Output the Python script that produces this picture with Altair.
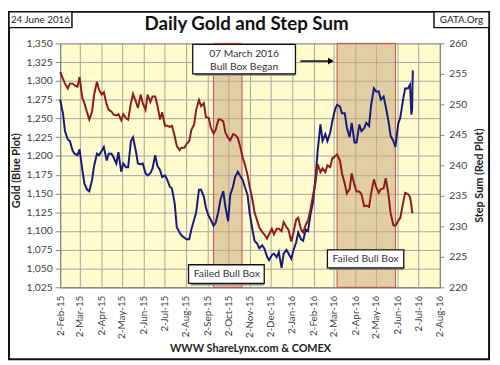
import altair as alt
import pandas as pd

# ---------------- data ----------------
start = pd.Timestamp("2015-02-02")
day_offsets = [int(3.5 * k + 0.5) for k in range(145)] + [506, 507, 508]
dates = [(start + pd.Timedelta(days=d)).strftime("%Y-%m-%d") for d in day_offsets]

gold = [1275, 1257, 1233, 1222, 1220, 1207, 1203, 1201, 1209, 1181,
        1163, 1155, 1153, 1168, 1187, 1203, 1201, 1207, 1212, 1194,
        1203, 1203, 1198, 1190, 1205, 1179, 1190, 1185, 1185, 1220,
        1225, 1207, 1190, 1189, 1190, 1177, 1174, 1177, 1183, 1201,
        1187, 1181, 1172, 1174, 1169, 1159, 1157, 1137, 1105, 1098,
        1094, 1091, 1089, 1089, 1102, 1115, 1125, 1155, 1155, 1146,
        1131, 1120, 1115, 1107, 1111, 1126, 1142, 1153, 1133, 1113,
        1148, 1159, 1172, 1179, 1174, 1168, 1159, 1148, 1124, 1102,
        1087, 1083, 1077, 1081, 1077, 1066, 1061, 1068, 1070, 1065,
        1072, 1051, 1070, 1075, 1070, 1063, 1074, 1085, 1098, 1089,
        1087, 1102, 1100, 1124, 1137, 1172, 1207, 1242, 1220, 1229,
        1220, 1231, 1246, 1262, 1268, 1266, 1257, 1257, 1238, 1225,
        1244, 1218, 1218, 1242, 1233, 1237, 1244, 1240, 1268, 1290,
        1286, 1286, 1275, 1279, 1266, 1246, 1227, 1220, 1212, 1243,
        1251, 1275, 1290, 1290, 1295, 1255, 1262, 1314]

step = [255.3, 254.2, 253.4, 252.6, 253.4, 253.4, 253.1, 252.9, 254.5, 251.0,
        250.2, 248.6, 247.5, 248.8, 251.6, 253.7, 252.4, 251.6, 252.0, 250.0,
        249.1, 248.8, 248.3, 248.2, 248.4, 247.4, 248.4, 247.7, 247.5, 250.2,
        251.7, 250.5, 249.4, 251.6, 250.2, 249.1, 251.6, 250.4, 251.3, 251.3,
        249.9, 247.5, 248.7, 246.5, 246.5, 246.3, 246.5, 244.8, 243.2, 242.5,
        242.9, 242.9, 243.5, 244.0, 245.8, 246.7, 249.1, 250.7, 249.7, 250.2,
        247.9, 247.8, 246.2, 245.2, 245.8, 247.5, 247.5, 247.2, 245.4, 244.5,
        244.1, 245.1, 245.0, 244.5, 243.2, 241.3, 240.2, 238.4, 236.5, 234.4,
        232.3, 230.9, 229.8, 229.1, 228.7, 228.0, 228.7, 229.6, 228.7, 229.6,
        229.6, 229.2, 230.7, 229.9, 229.4, 227.5, 228.9, 231.1, 231.4, 229.5,
        229.0, 230.3, 230.9, 233.0, 234.9, 237.3, 240.2, 238.9, 239.5, 238.9,
        240.0, 239.7, 241.1, 241.5, 241.8, 240.8, 238.7, 237.0, 235.4, 236.1,
        238.7, 236.8, 235.7, 235.7, 235.3, 233.3, 233.4, 233.2, 235.4, 237.7,
        236.5, 235.5, 236.1, 236.2, 237.9, 235.2, 232.2, 230.2, 230.1, 230.9,
        231.4, 233.8, 235.5, 235.3, 234.8, 233.5, 232.2, 232.5]

box_start = ["2015-09-11", "2016-03-07"]
box_end = ["2015-10-22", "2016-05-30"]
box_lo = [1025, 1025]
box_hi = [1350, 1350]

note_x1 = ["2015-08-12", "2015-08-06", "2016-02-22"]
note_x2 = ["2016-01-07", "2015-11-23", "2016-06-11"]
note_lo = [1309.4, 1030.2, 1050.8]
note_hi = [1348.7, 1055.1, 1074.8]

text_lines = ["07 March 2016", "Bull Box Began", "Failed Bull Box", "Failed Bull Box"]
text_x = ["2015-10-25", "2015-10-25", "2015-09-30", "2016-04-17"]
text_y = [1335.6, 1318.5, 1042.7, 1063.0]

arrow_from = ["2016-01-14"]
arrow_to = ["2016-02-27"]
arrow_level = [1326.4]

month_ticks = [(2015, m) for m in range(2, 13)] + [(2016, m) for m in range(1, 9)]
gold_ticks = list(range(1025, 1351, 25))
step_ticks = list(range(220, 261, 5))

# ---------------- tables ----------------
df = pd.DataFrame({"date": dates, "gold": gold, "step": step})
boxes = pd.DataFrame({"s": box_start, "e": box_end, "lo": box_lo, "hi": box_hi})
notes = pd.DataFrame({"s": note_x1, "e": note_x2, "lo": note_lo, "hi": note_hi})
texts = pd.DataFrame({"t": text_lines, "d": text_x, "v": text_y})
arrow = pd.DataFrame({"s": arrow_from, "e": arrow_to, "v": arrow_level})
one = pd.DataFrame({"k": [0]})

FONT = "Lato"
GRID = "#a3a3a3"

xscale = alt.Scale(
    type="utc",
    domain=[alt.DateTime(year=2015, month=2, date=2, utc=True),
            alt.DateTime(year=2016, month=8, date=2, utc=True)],
)
xaxis = alt.Axis(
    values=[alt.DateTime(year=y, month=m, date=2, utc=True) for y, m in month_ticks],
    format="%-d-%b-%y", labelAngle=270, labelAlign="right", labelBaseline="middle",
    labelOverlap=False, labelPadding=8, ticks=False, grid=True, gridColor=GRID,
    gridWidth=1, domainColor="#808080", labelFontSize=10, labelColor="#404040",
    labelFont=FONT, title="WWW ShareLynx.com & COMEX", titleY=62,
    titleBaseline="middle", titleFont=FONT, titleFontSize=11,
    titleFontWeight="bold", titleColor="#222222",
)
gscale = alt.Scale(domain=[1025, 1350], nice=False, zero=False)
gaxis = alt.Axis(
    values=gold_ticks, format=",.0f", grid=True, gridColor=GRID, gridWidth=1,
    labelOverlap=False, tickSize=5, tickColor="#808080", labelPadding=3,
    domainColor="#808080", labelFont=FONT, labelFontSize=10.5, labelColor="#404040",
    title="Gold  (Blue Plot)", titleX=-44, titleY=129, titleAngle=270,
    titleAlign="center", titleBaseline="middle", titleFont=FONT,
    titleFontSize=11, titleFontWeight="bold", titleColor="#222222",
)


def X(field):
    return alt.X(field, scale=xscale, axis=xaxis, title="WWW ShareLynx.com & COMEX")


def YG(field):
    return alt.Y(field, scale=gscale, axis=gaxis, title="Gold  (Blue Plot)")


bull = alt.Chart(boxes).mark_rect(
    fill="#C9A97F", fillOpacity=0.55, stroke="#C0504D", strokeWidth=1
).encode(x=X("s:T"), x2="e:T", y=YG("lo:Q"), y2="hi:Q")

gold_line = alt.Chart(df).mark_line(color="#141B7C", strokeWidth=2).encode(
    x=X("date:T"), y=YG("gold:Q"))

shadow = alt.Chart(notes).mark_rect(fill="#8a8a8a", xOffset=2, yOffset=2).encode(
    x=X("s:T"), x2="e:T", y=YG("lo:Q"), y2="hi:Q")
note_box = alt.Chart(notes).mark_rect(fill="white", stroke="#111111", strokeWidth=1.3).encode(
    x=X("s:T"), x2="e:T", y=YG("lo:Q"), y2="hi:Q")
note_text = alt.Chart(texts).mark_text(
    font=FONT, fontSize=10.5, color="#333333", baseline="middle", align="center"
).encode(x=X("d:T"), y=YG("v:Q"), text="t:N")

arrow_rule = alt.Chart(arrow).mark_rule(color="black", strokeWidth=1.5).encode(
    x=X("s:T"), x2="e:T", y=YG("v:Q"))
arrow_head = alt.Chart(arrow).mark_point(
    shape="triangle-right", filled=True, size=45, color="black", opacity=1
).encode(x=X("e:T"), y=YG("v:Q"))

# decorations outside the plot area
frame = alt.Chart(one).mark_rect(fillOpacity=0, stroke="#111111", strokeWidth=2).encode(
    x=alt.value(-52), x2=alt.value(436), y=alt.value(-32), y2=alt.value(321))
date_box = alt.Chart(one).mark_rect(fill="white", stroke="#111111", strokeWidth=1.5).encode(
    x=alt.value(-52), x2=alt.value(12), y=alt.value(-32), y2=alt.value(-16))
date_txt = alt.Chart(one).mark_text(font=FONT, fontSize=10, color="#222222").encode(
    x=alt.value(-20), y=alt.value(-24), text=alt.value("24 June 2016"))
gata_box = alt.Chart(one).mark_rect(fill="white", stroke="#111111", strokeWidth=1.5).encode(
    x=alt.value(380), x2=alt.value(436), y=alt.value(-32), y2=alt.value(-16))
gata_txt = alt.Chart(one).mark_text(font=FONT, fontSize=10, color="#222222").encode(
    x=alt.value(408), y=alt.value(-24), text=alt.value("GATA.Org"))
title = alt.Chart(one).mark_text(
    font=FONT, fontSize=19, fontWeight="bold", color="#111111", baseline="alphabetic"
).encode(x=alt.value(189.5), y=alt.value(-14), text=alt.value("Daily Gold and Step Sum"))

inner = alt.layer(bull, gold_line, shadow, note_box, note_text, arrow_rule, arrow_head,
                  frame, date_box, date_txt, gata_box, gata_txt, title)

step_line = alt.Chart(df).mark_line(color="#8E1B1B", strokeWidth=2).encode(
    x=X("date:T"),
    y=alt.Y("step:Q", scale=alt.Scale(domain=[220, 260], nice=False, zero=False),
            title="Step Sum  (Red Plot)",
            axis=alt.Axis(
                orient="right", values=step_ticks, format="d", grid=False, tickSize=4,
                labelOverlap=False, tickColor="#808080", labelPadding=5,
                domainColor="#808080", labelFont=FONT, labelFontSize=10.5,
                labelColor="#404040", title="Step Sum  (Red Plot)", titleX=40,
                titleY=134, titleAngle=270, titleAlign="center",
                titleBaseline="middle", titleFont=FONT, titleFontSize=11,
                titleFontWeight="bold", titleColor="#222222")),
)

chart = alt.layer(inner, step_line).resolve_scale(y="independent").properties(
    width=386, height=248,
    padding={"left": 53, "top": 33, "right": 53, "bottom": 76},
    autosize=alt.AutoSizeParams(type="none"),
    background="white",
).configure_view(fill="#FFFBCC", stroke="#8c8c8c", strokeWidth=1)

chart.save("out.html", embed_options={"renderer": "svg", "actions": False})
